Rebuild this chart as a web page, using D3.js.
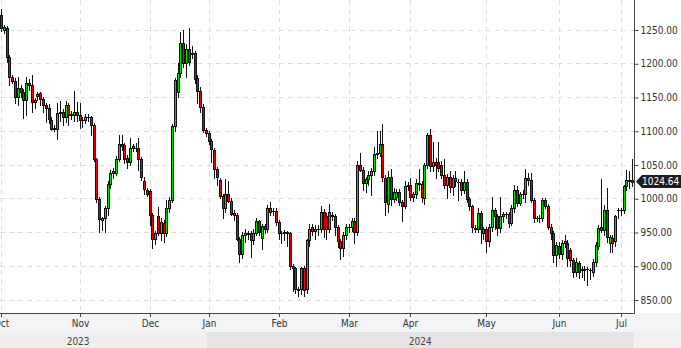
<!DOCTYPE html>
<html><head><meta charset="utf-8">
<script src="https://cdn.jsdelivr.net/npm/d3@7"></script>
<style>
html,body{margin:0;padding:0;background:#fff;overflow:hidden}
svg{display:block}
text{font-family:"DejaVu Sans Condensed","DejaVu Sans",sans-serif;font-stretch:condensed}
</style></head><body>
<svg id="chart" width="681" height="348"></svg>
<script>
// ---- data (daily candles, Oct 2023 - Jul 2024) ----
const opens = [
1272,1250,1252,1209,1180,1174,1150,1164,1158,1146,
1171,1168,1142,1151,1156,1147,1138,1133,1116,1103,
1103,1126,1128,1121,1138,1124,1124,1128,1124,1116,
1116,1120,1120,1109,1058,999,968,970,985,1021,
1037,1038,1058,1080,1079,1060,1054,1077,1074,1075,
1058,1025,1012,1011,975,939,973,948,963,948,
985,997,1107,1158,1185,1230,1201,1221,1215,1215,
1178,1159,1135,1101,1096,1085,1072,1043,1027,1003,
985,1007,996,978,975,939,918,946,948,949,
938,949,966,941,959,955,985,981,981,965,
949,949,950,948,899,896,865,865,896,865,
938,957,952,955,955,980,973,955,975,973,
957,936,926,946,957,958,966,950,1049,1042,
1022,1028,1034,1040,1065,1067,1080,1030,992,1032,
999,1002,1010,995,988,1018,1020,1002,1006,1022,
1021,1000,1050,1094,1048,1053,1053,1049,1035,1020,
1032,1017,1030,1024,1024,1012,1024,999,988,956,
955,978,948,955,937,958,983,973,956,973,
976,976,964,985,1012,993,1006,1006,1027,1027,
997,970,970,970,997,988,958,949,916,929,
918,934,934,923,908,891,904,893,895,895,
893,891,905,929,957,953,983,934,941,937,
982,982,982,1018,1026,1027
];
const highs = [
1280,1256,1255,1212,1183,1178,1180,1168,1162,1180,
1176,1183,1148,1158,1158,1150,1141,1139,1120,1108,
1141,1144,1132,1144,1141,1130,1159,1142,1141,1120,
1125,1125,1122,1111,1060,1002,972,988,1025,1042,
1045,1062,1094,1094,1082,1064,1089,1080,1082,1089,
1061,1032,1015,1014,978,952,987,970,968,997,
1002,1110,1178,1200,1247,1249,1228,1252,1225,1218,
1182,1165,1140,1104,1099,1088,1075,1046,1030,1006,
1028,1025,1000,982,978,942,950,955,952,951,
955,970,968,962,962,990,995,985,985,968,
952,953,952,950,902,898,868,898,899,940,
962,962,960,960,989,984,978,992,980,976,
960,940,950,962,962,970,970,1055,1067,1046,
1032,1040,1045,1076,1099,1099,1110,1035,1040,1044,
1015,1014,1013,998,1025,1024,1030,1010,1028,1044,
1025,1052,1096,1103,1084,1060,1084,1055,1058,1036,
1040,1034,1040,1028,1028,1040,1028,1002,990,960,
985,981,958,958,962,1002,986,976,1002,980,
980,979,990,1020,1018,1010,1012,1044,1038,1038,
1000,974,975,1000,1000,992,962,952,935,935,
938,945,938,926,911,912,907,900,900,898,
896,910,935,960,1028,990,1015,945,946,975,
985,985,1020,1042,1040,1058
];
const lows = [
1248,1245,1202,1168,1170,1141,1138,1150,1119,1123,
1160,1128,1134,1146,1138,1128,1113,1111,1101,1099,
1088,1115,1108,1113,1108,1118,1115,1115,1104,1105,
1112,1115,1094,1055,995,950,953,950,975,1015,
1030,1035,1055,1072,1052,1045,1050,1070,1070,1042,
1027,1007,1003,960,926,932,945,938,935,944,
980,994,1100,1150,1180,1195,1180,1198,1208,1170,
1141,1128,1098,1092,1080,1054,1030,1020,1000,970,
980,994,975,968,938,905,912,935,940,913,
932,945,945,925,948,950,975,975,960,940,
933,938,930,895,862,860,855,858,855,860,
930,945,940,945,950,943,940,950,968,946,
928,910,915,940,950,952,933,946,1040,1012,
1010,1020,1005,1035,1060,1062,1025,975,980,990,
994,998,990,967,985,1012,998,996,1000,1012,
995,992,1045,1040,1040,1030,1040,1030,1015,1000,
1010,1005,1018,997,1005,1008,995,982,950,950,
950,933,940,921,930,952,955,945,950,965,
970,958,960,980,988,990,1000,995,1020,995,
965,966,965,967,985,955,940,905,900,912,
910,928,899,900,884,885,882,884,879,871,
880,885,900,925,950,945,935,920,921,930,
970,975,978,1012,1015,1018
];
const closes = [
1252,1253,1209,1180,1174,1150,1164,1158,1146,1171,
1168,1142,1145,1154,1147,1138,1133,1118,1103,1104,
1126,1128,1121,1138,1123,1125,1128,1123,1116,1116,
1121,1120,1109,1058,999,969,970,985,1021,1037,
1040,1058,1080,1077,1058,1054,1075,1074,1075,1058,
1031,1013,1006,975,939,948,948,965,948,985,
998,1107,1175,1185,1230,1201,1221,1202,1214,1176,
1159,1135,1101,1096,1085,1073,1043,1032,1003,985,
1007,996,977,975,939,918,945,948,947,938,
949,966,950,959,955,985,980,981,965,949,
949,950,948,899,896,865,864,896,864,938,
955,952,955,955,980,955,955,979,973,957,
936,926,946,957,958,966,950,1049,1042,1022,
1028,1034,1040,1065,1067,1080,1031,995,1032,999,
1010,1010,995,988,1018,1020,1002,1006,1022,1021,
1002,1050,1094,1048,1053,1049,1045,1035,1020,1032,
1017,1030,1026,1024,1012,1024,999,988,958,955,
978,955,955,937,958,983,973,956,973,976,
976,964,985,1012,993,1006,1006,1030,1030,997,
970,970,970,997,988,958,949,916,931,918,
934,936,911,908,891,906,891,895,893,895,
893,906,931,956,953,983,943,943,933,973,
982,982,1018,1027,1027,1024.64
];
const monthLabels = ["Oct","Nov","Dec","Jan","Feb","Mar","Apr","May","Jun","Jul"];
const monthStarts = [0,28,53,74,99,124,146,173,199,221];   // candle index where month begins
const yearLabels = ["2023","2024"];
const yearFirstIndex = [-18,74];   // 2023 segment begins before the visible window
const yearLastIndex = [73,225];
const priceTicks = [850,900,950,1000,1050,1100,1150,1200,1250];
const lastPrice = 1024.64;

// ---- layout ----
const W = 681, H = 348, plotR = 634, plotB = 313, monthRowB = 332;
const N = closes.length;
const svg = d3.select("#chart");
const x = d3.scaleLinear().domain([0, N - 1]).range([1, 632]);
const y = d3.scaleLinear().domain([850, 1250]).range([299.5, 29.5]);
const px = i => Math.round(x(i)) + 0.5;
const py = v => Math.round(y(v)) + 0.5;
const step = x(1) - x(0);

// backgrounds
svg.append("rect").attr("x",0).attr("y",0).attr("width",W).attr("height",H).attr("fill","#fff");
svg.append("rect").attr("x",0).attr("y",plotB).attr("width",W).attr("height",monthRowB-plotB).attr("fill","#f4f4f6");
svg.append("rect").attr("x",0).attr("y",monthRowB).attr("width",W).attr("height",H-monthRowB).attr("fill","#f0f0f2");
const yearBand = yearLabels.map((l,k)=>({
  label:l,
  x0: Math.max(0, x(yearFirstIndex[k]) - step/2),
  x1: Math.min(plotR, x(yearLastIndex[k]) + step/2),
  cx: (x(yearFirstIndex[k]) + x(yearLastIndex[k]))/2
}));
svg.selectAll("rect.yb").data(yearBand).enter().append("rect").attr("class","yb")
  .attr("x",d=>d.x0).attr("y",monthRowB).attr("width",d=>d.x1-d.x0).attr("height",H-monthRowB)
  .attr("fill",(d,k)=>k===0?"#efeff1":"#e4e4e6");
svg.selectAll("text.yl").data(yearBand).enter().append("text").attr("class","yl")
  .attr("x",d=>d.cx).attr("y",345).attr("text-anchor","middle")
  .attr("font-size",10).attr("fill","#444").text(d=>d.label);

// grid
const grid = svg.append("g").attr("stroke","#dedede").attr("stroke-dasharray","5,4").attr("stroke-width",1);
grid.selectAll("line.h").data(priceTicks).enter().append("line")
  .attr("x1",0).attr("x2",plotR).attr("y1",d=>py(d)).attr("y2",d=>py(d));
grid.selectAll("line.v").data(monthStarts).enter().append("line")
  .attr("y1",0).attr("y2",plotB).attr("x1",d=>px(d)).attr("x2",d=>px(d));

// candles
svg.append("clipPath").attr("id","clip").append("rect").attr("x",0).attr("y",0).attr("width",plotR).attr("height",plotB);
const cg = svg.append("g").attr("clip-path","url(#clip)");
const idx = d3.range(N);
cg.selectAll("line.wick").data(idx).enter().append("line")
  .attr("x1",i=>px(i)).attr("x2",i=>px(i))
  .attr("y1",i=>py(highs[i])-0.5).attr("y2",i=>py(lows[i])+0.5)
  .attr("stroke","#111").attr("stroke-width",1);
idx.forEach(i=>{
  const o = opens[i], c = closes[i];
  const top = py(Math.max(o,c)), bot = py(Math.min(o,c));
  const cx = px(i);
  if (bot - top < 1) {
    cg.append("line").attr("x1",cx-1.5).attr("x2",cx+1.5).attr("y1",top).attr("y2",top)
      .attr("stroke","#111").attr("stroke-width",1);
  } else {
    cg.append("rect").attr("x",cx-1).attr("y",top).attr("width",2).attr("height",bot-top)
      .attr("fill", c >= o ? "#00dc00" : "#f00000").attr("stroke","#111").attr("stroke-width",1);
  }
});

// axes lines
svg.append("line").attr("x1",plotR+0.5).attr("x2",plotR+0.5).attr("y1",0).attr("y2",plotB+0.5).attr("stroke","#444");
svg.append("line").attr("x1",0).attr("x2",plotR+0.5).attr("y1",plotB+0.5).attr("y2",plotB+0.5).attr("stroke","#444");

// right axis
const yAxis = d3.axisRight(y).tickValues(priceTicks).tickSize(4).tickPadding(2).tickFormat(d3.format(".2f"));
const ya = svg.append("g").attr("transform",`translate(${plotR+0.5},0.5)`).call(yAxis);
ya.select(".domain").remove();
ya.selectAll(".tick line").attr("stroke","#444");
ya.selectAll(".tick text").attr("fill","#333").attr("font-size",10)
  .attr("font-family",'"DejaVu Sans Condensed","DejaVu Sans",sans-serif');

// bottom axis (months)
const xb = svg.append("g");
xb.selectAll("line.mt").data(monthStarts).enter().append("line")
  .attr("x1",d=>px(d)).attr("x2",d=>px(d)).attr("y1",plotB).attr("y2",plotB+4).attr("stroke","#444");
xb.selectAll("text.ml").data(monthStarts).enter().append("text")
  .attr("x",d=>px(d)).attr("y",327).attr("text-anchor","middle")
  .attr("font-size",10).attr("fill","#333").text((d,k)=>monthLabels[k]);

// last price tag
const ly = y(lastPrice);
svg.append("path")
  .attr("d",`M${plotR+2},${ly} L${plotR+8},${ly-6.5} L${W},${ly-6.5} L${W},${ly+6.5} L${plotR+8},${ly+6.5} Z`)
  .attr("fill","#1e1e1e");
svg.append("text").attr("x",plotR+8).attr("y",ly).attr("dy","0.36em")
  .attr("font-size",10).attr("fill","#fff").text(d3.format(".2f")(lastPrice));
</script>
</body></html>
